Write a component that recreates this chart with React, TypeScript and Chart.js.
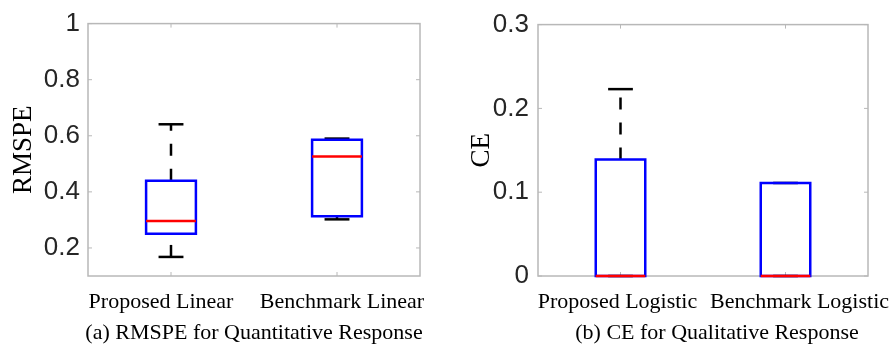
import React, { useEffect, useRef } from 'react';
import { Chart, registerables } from 'chart.js';

Chart.register(...registerables);

// ---------- data ----------
const leftCategories = ['Proposed Linear', 'Benchmark Linear'];
const leftLower = [0.168, 0.302];
const leftQ1 = [0.251, 0.313];
const leftMedian = [0.296, 0.526];
const leftQ3 = [0.44, 0.586];
const leftUpper = [0.641, 0.59];
const leftYTicks = [0.2, 0.4, 0.6, 0.8, 1];
const leftYTitle = 'RMSPE';
const leftCaption = '(a) RMSPE for Quantitative Response';

const rightCategories = ['Proposed Logistic', 'Benchmark Logistic'];
const rightLower = [0, 0];
const rightQ1 = [0, 0];
const rightMedian = [0, 0];
const rightQ3 = [0.139, 0.111];
const rightUpper = [0.223, 0.111];
const rightYTicks = [0, 0.1, 0.2, 0.3];
const rightYTitle = 'CE';
const rightCaption = '(b) CE for Qualitative Response';

// ---------- styles ----------
const BLUE = '#0000ff';
const RED = '#ff0000';
const BLACK = '#000000';
const FRAME = '#b8b8b8';
const TICK_COLOR = '#262626';
const SERIF = "'Liberation Serif', 'Times New Roman', serif";
const SANS = "'Liberation Sans', Arial, sans-serif";
const BOX_HALF = 0.15;
const CAP_HALF = 0.075;
const LINE_W = 2.5;
const LABEL_BASELINE = 308;
const CAPTION_BASELINE = 339;

type Panel = {
  categories: string[];
  lower: number[];
  q1: number[];
  median: number[];
  q3: number[];
  upper: number[];
  yTicks: number[];
  yMin: number;
  yMax: number;
  yTitle: string;
  caption: string;
  axisWidth: number;
  padRight: number;
  tickPad: number;
  yTitlePad: number;
  labelShift: number[];
  captionShift: number;
};

const leftPanel: Panel = {
  categories: leftCategories,
  lower: leftLower,
  q1: leftQ1,
  median: leftMedian,
  q3: leftQ3,
  upper: leftUpper,
  yTicks: leftYTicks,
  yMin: 0.1,
  yMax: 1,
  yTitle: leftYTitle,
  caption: leftCaption,
  axisWidth: 88,
  padRight: 26,
  tickPad: 8,
  yTitlePad: 8,
  labelShift: [-10, 5],
  captionShift: 0,
};

const rightPanel: Panel = {
  categories: rightCategories,
  lower: rightLower,
  q1: rightQ1,
  median: rightMedian,
  q3: rightQ3,
  upper: rightUpper,
  yTicks: rightYTicks,
  yMin: 0,
  yMax: 0.3,
  yTitle: rightYTitle,
  caption: rightCaption,
  axisWidth: 92,
  padRight: 24,
  tickPad: 9,
  yTitlePad: 20,
  labelShift: [-3, 14],
  captionShift: 14,
};

function buildDatasets(p: Panel) {
  const base = {
    showLine: true,
    pointRadius: 0,
    pointHoverRadius: 0,
    borderWidth: LINE_W,
    tension: 0,
    clip: false as any,
    fill: false,
  };
  const ds: any[] = [];
  p.categories.forEach((_, i) => {
    const x = i + 1;
    ds.push({
      ...base,
      order: 0,
      borderColor: RED,
      data: [
        { x: x - BOX_HALF, y: p.median[i] },
        { x: x + BOX_HALF, y: p.median[i] },
      ],
    });
    ds.push({
      ...base,
      order: 1,
      borderColor: BLUE,
      borderJoinStyle: 'miter',
      data: [
        { x: x, y: p.q1[i] },
        { x: x + BOX_HALF, y: p.q1[i] },
        { x: x + BOX_HALF, y: p.q3[i] },
        { x: x - BOX_HALF, y: p.q3[i] },
        { x: x - BOX_HALF, y: p.q1[i] },
        { x: x, y: p.q1[i] },
      ],
    });
    ds.push({
      ...base,
      order: 2,
      borderColor: BLACK,
      borderDash: [12, 13],
      data: [
        { x: x, y: p.q3[i] },
        { x: x, y: p.upper[i] },
      ],
    });
    ds.push({
      ...base,
      order: 2,
      borderColor: BLACK,
      borderDash: [12, 13],
      data: [
        { x: x, y: p.lower[i] },
        { x: x, y: p.q1[i] },
      ],
    });
    ds.push({
      ...base,
      order: 3,
      borderColor: BLACK,
      data: [
        { x: x - CAP_HALF, y: p.upper[i] },
        { x: x + CAP_HALF, y: p.upper[i] },
      ],
    });
    ds.push({
      ...base,
      order: 3,
      borderColor: BLACK,
      data: [
        { x: x - CAP_HALF, y: p.lower[i] },
        { x: x + CAP_HALF, y: p.lower[i] },
      ],
    });
  });
  return ds;
}

const framePlugin = {
  id: 'matlabFrame',
  beforeDatasetsDraw(chart: any) {
    const { ctx, chartArea: a, scales } = chart;
    ctx.save();
    ctx.strokeStyle = FRAME;
    ctx.lineWidth = 1.5;
    ctx.strokeRect(a.left, a.top, a.right - a.left, a.bottom - a.top);
    ctx.beginPath();
    scales.y.ticks.forEach((t: any) => {
      const y = scales.y.getPixelForValue(t.value);
      ctx.moveTo(a.left, y);
      ctx.lineTo(a.left + 4, y);
      ctx.moveTo(a.right, y);
      ctx.lineTo(a.right - 4, y);
    });
    scales.x.ticks.forEach((t: any) => {
      const x = scales.x.getPixelForValue(t.value);
      ctx.moveTo(x, a.bottom);
      ctx.lineTo(x, a.bottom - 4);
      ctx.moveTo(x, a.top);
      ctx.lineTo(x, a.top + 4);
    });
    ctx.lineWidth = 1;
    ctx.stroke();
    ctx.restore();
  },
};

function makeLabelPlugin(p: Panel) {
  return {
    id: 'categoryLabels',
    afterDraw(chart: any) {
      const { ctx, chartArea: a, scales } = chart;
      ctx.save();
      ctx.fillStyle = BLACK;
      ctx.font = `22px ${SERIF}`;
      ctx.textAlign = 'center';
      ctx.textBaseline = 'alphabetic';
      scales.x.ticks.forEach((t: any, i: number) => {
        const x = scales.x.getPixelForValue(t.value) + (p.labelShift[i] || 0);
        ctx.fillText(p.categories[i], x, LABEL_BASELINE);
      });
      ctx.fillText(p.caption, (a.left + a.right) / 2 + p.captionShift, CAPTION_BASELINE);
      ctx.restore();
    },
  };
}

function makeConfig(p: Panel): any {
  return {
    type: 'scatter',
    data: { datasets: buildDatasets(p) },
    plugins: [framePlugin, makeLabelPlugin(p)],
    options: {
      animation: false,
      responsive: false,
      events: [],
      layout: { padding: { left: 0, right: p.padRight, top: 19, bottom: 0 } },
      plugins: {
        legend: { display: false },
        tooltip: { enabled: false },
      },
      scales: {
        x: {
          type: 'linear',
          min: 0.5,
          max: 2.5,
          afterBuildTicks: (s: any) => {
            s.ticks = p.categories.map((_, i) => ({ value: i + 1 }));
          },
          afterFit: (s: any) => {
            s.height = 71;
          },
          ticks: { display: false },
          grid: { display: false, drawTicks: false },
          border: { display: false },
          title: { display: false },
        },
        y: {
          type: 'linear',
          min: p.yMin,
          max: p.yMax,
          afterBuildTicks: (s: any) => {
            s.ticks = p.yTicks.map((v) => ({ value: v }));
          },
          afterFit: (s: any) => {
            s.width = p.axisWidth;
          },
          ticks: {
            padding: p.tickPad,
            color: TICK_COLOR,
            font: { family: SANS, size: 26 },
            callback: (v: any) => String(v),
          },
          grid: { display: false, drawTicks: false },
          border: { display: false },
          title: {
            display: true,
            text: p.yTitle,
            color: BLACK,
            font: { family: SERIF, size: 27 },
            padding: { top: p.yTitlePad, bottom: 0 },
          },
        },
      },
    },
  };
}

export default function App() {
  const leftRef = useRef<HTMLCanvasElement>(null);
  const rightRef = useRef<HTMLCanvasElement>(null);

  useEffect(() => {
    const charts: Chart[] = [];
    if (leftRef.current) charts.push(new Chart(leftRef.current, makeConfig(leftPanel)));
    if (rightRef.current) charts.push(new Chart(rightRef.current, makeConfig(rightPanel)));
    return () => charts.forEach((c) => c.destroy());
  }, []);

  return (
    <div
      style={{
        position: 'absolute',
        left: 0,
        top: 0,
        width: 892,
        height: 347,
        background: '#ffffff',
        overflow: 'hidden',
      }}
    >
      <canvas
        ref={leftRef}
        width={446}
        height={347}
        style={{ position: 'absolute', left: 0, top: 0, width: 446, height: 347 }}
      />
      <canvas
        ref={rightRef}
        width={446}
        height={347}
        style={{ position: 'absolute', left: 446, top: 0, width: 446, height: 347 }}
      />
    </div>
  );
}
